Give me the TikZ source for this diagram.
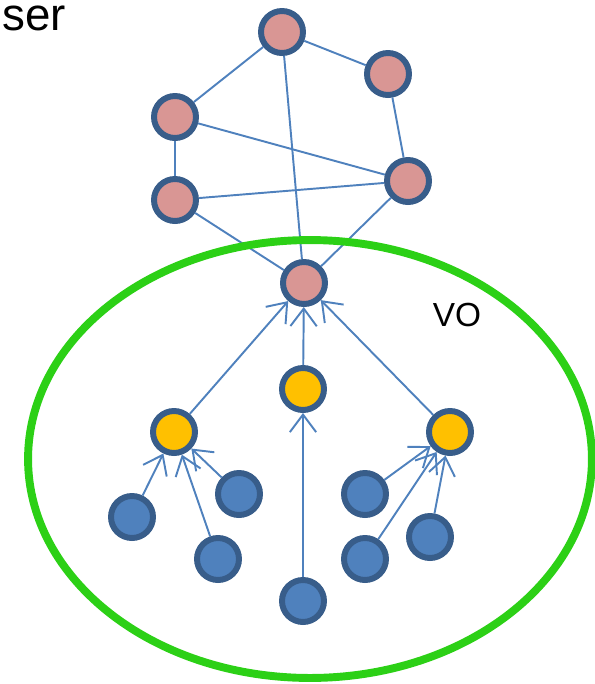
\documentclass[tikz,border=0pt]{standalone}
\usepackage{fontspec}
\setmainfont{Liberation Sans}
\usetikzlibrary{arrows.meta}
\tikzset {>={Straight Barb[length=10pt,width=15pt]}}
\definecolor{ring}{RGB}{56,93,138}
\definecolor{linkblue}{RGB}{79,129,189}
\definecolor{peerpink}{RGB}{217,150,148}
\definecolor{gold}{RGB}{255,192,0}
\definecolor{vogreen}{RGB}{44,208,22}

\begin{document}
\begin{tikzpicture}[x=0.02cm,y=-0.02cm,
  member/.style={circle,draw=ring,line width=3.4pt,minimum size=0.84cm,inner sep=0pt},
  pink/.style={member,fill=peerpink},
  yellow/.style={member,fill=gold},
  leaf/.style={member,fill=linkblue},
  link/.style={draw=linkblue,line width=1.1pt}]

\useasboundingbox (0,0) rectangle (595,684);

% Place the peers outside the VO
\node[pink] (T)  at (282,32)  {};
\node[pink] (UR) at (388,74)  {};
\node[pink] (UL) at (175,117) {};
\node[pink] (LL) at (175,200) {};
\node[pink] (RM) at (408,181) {};
\node[pink] (H)  at (304,283) {};

% Place the inner members
\node[yellow] (YL) at (174,432) {};
\node[yellow] (YC) at (303,389) {};
\node[yellow] (YR) at (450,432) {};
\node[leaf] (B1) at (132,517) {};
\node[leaf] (B2) at (239,494) {};
\node[leaf] (B3) at (218,559) {};
\node[leaf] (B4) at (303,601) {};
\node[leaf] (B5) at (365,494) {};
\node[leaf] (B6) at (365,559) {};
\node[leaf] (B7) at (430,537) {};

% Draw links between peers
\draw [link] (T) -- (UL);
\draw [link] (T) -- (UR);
\draw [link] (T) -- (H);
\draw [link] (UL) -- (LL);
\draw [link] (UL) -- (RM);
\draw [link] (UR) -- (RM);
\draw [link] (LL) -- (RM);
\draw [link] (LL) -- (H);
\draw [link] (RM) -- (H);

% Draw arrows inside the VO
\draw [link,->] (YL) -- (H);
\draw [link,->] (YC) -- (H);
\draw [link,->] (YR) -- (H);
\draw [link,->] (B1) -- (YL);
\draw [link,->] (B2) -- (YL);
\draw [link,->] (B3) -- (YL);
\draw [link,->] (B4) -- (YC);
\draw [link,->] (B5) -- (YR);
\draw [link,->] (B6) -- (YR);
\draw [link,->] (B7) -- (YR);

% Draw the VO boundary
\coordinate (VO) at (310,459);
\draw [vogreen,line width=4.5pt] (VO) ellipse [x radius=5.64cm,y radius=4.38cm];

% Labels
\node[anchor=base west,inner sep=0pt,font=\fontsize{26}{30}\selectfont] (user) at (2,30) {ser};
\node[font=\fontsize{19}{22}\selectfont] (vo) at (457,315) {VO};
\end{tikzpicture}
\end{document}
